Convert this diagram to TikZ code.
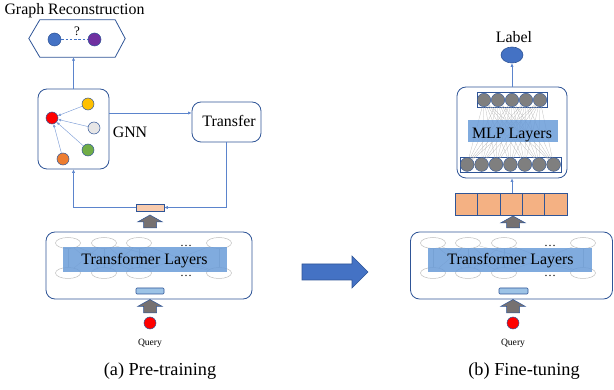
\documentclass[tikz,border=0pt]{standalone}
\usepackage{fontspec}
\setmainfont{Liberation Serif}
\usetikzlibrary{arrows.meta,shapes.geometric}
\definecolor{dblue}{HTML}{2F5597}
\definecolor{lblue}{HTML}{5B84CC}
\definecolor{bandblue}{HTML}{6A9CD8}
\definecolor{arrgray}{HTML}{767171}
\definecolor{orangeL}{HTML}{F8CBAD}
\definecolor{orangeD}{HTML}{F4B183}
\definecolor{smallblue}{HTML}{9DC3E6}
\definecolor{midblue}{HTML}{4472C4}
\definecolor{purp}{HTML}{7030A0}
\definecolor{ylw}{HTML}{FFC000}
\definecolor{lgry}{HTML}{E7E6E6}
\definecolor{grn}{HTML}{70AD47}
\definecolor{orng}{HTML}{ED7D31}
\definecolor{gcirc}{HTML}{7F7F7F}
\newcommand\myfs[1]{\fontsize{#1}{#1}\selectfont}
\newcommand\grayup[3]{\fill[arrgray,draw=dblue,line width=0.5pt]
  ({#1-6.5},#2) -- ({#1-6.5},{#3+7}) -- ({#1-12.5},{#3+7}) -- (#1,#3) -- ({#1+12.5},{#3+7}) -- ({#1+6.5},{#3+7}) -- ({#1+6.5},#2) -- cycle;}
\begin{document}
\begin{tikzpicture}[x=1pt,y=-1pt,
  box/.style={draw=dblue, line width=0.8pt, rounded corners=9pt, inner sep=0pt},
  conn/.style={draw=lblue, line width=0.6pt, -{Latex[length=3.5pt,width=3.2pt]}},
  sconn/.style={draw=lblue!80, line width=0.45pt, -{Latex[length=3pt,width=2.8pt]}},
  ell/.style={ellipse, draw=gray!50, fill=white, line width=0.5pt, minimum width=25pt, minimum height=11pt, inner sep=0pt},
  band/.style={fill=bandblue, fill opacity=0.85, text opacity=1, inner sep=0pt},
  dot/.style={circle, inner sep=0pt, minimum size=12pt, draw=dblue, line width=0.5pt},
  gdot/.style={circle, inner sep=0pt, fill=gcirc, draw=dblue, line width=0.4pt},
  mesh/.style={draw=gray!55, line width=0.25pt},
  faint/.style={draw=gray!50, line width=0.3pt},
  txt/.style={anchor=base, inner sep=0pt, font=\myfs{15.9}}
]
\useasboundingbox (0,0) rectangle (614,390);

% ---------------- Left panel ----------------
\node[txt] (grtitle) at (74.5,14.5) {Graph Reconstruction};
\node[minimum width=96pt, minimum height=37pt, inner sep=0pt] (hex) at (77,38.5) {};
\draw[dblue, line width=0.8pt] (hex.west) -- ([xshift=11pt]hex.north west) -- ([xshift=-10pt]hex.north east)
  -- (hex.east) -- ([xshift=-10pt]hex.south east) -- ([xshift=11pt]hex.south west) -- cycle;
\node[dot, fill=midblue, minimum size=13pt] (hb) at (54.5,39.5) {};
\node[dot, fill=purp, minimum size=13pt] (hp) at (94.5,39.5) {};
\draw[midblue, line width=0.6pt, dash pattern=on 2.5pt off 1.8pt] (hb) -- (hp);
\node[anchor=base, inner sep=0pt, font=\myfs{13}] (qm) at (77,36) {?};

% GNN box
\node[box, minimum width=71pt, minimum height=80pt] (gnn) at (73.5,129) {};
\node[dot, fill=red] (nr) at (52,118) {};
\node[dot, fill=ylw] (ny) at (88,104) {};
\node[dot, fill=lgry] (ng) at (94,128) {};
\node[dot, fill=grn] (ngr) at (88,150) {};
\node[dot, fill=orng] (no) at (63,159) {};
\foreach \n in {ny,ng,ngr,no} \draw[sconn] (\n) -- (nr);
\node[txt] (gnnlbl) at (130,138) {GNN};

% Transfer
\node[box, minimum width=69pt, minimum height=40pt] (transfer) at (226.5,122) {};
\node[txt] (transferlbl) at (229,126.7) {Transfer};

% Left transformer box
\node[box, minimum width=206pt, minimum height=67pt] (tl) at (149,265.5) {};
\foreach \x [count=\i] in {68,104,139,219} {
  \node[ell] (lt\i) at (\x,243) {};
  \node[ell] (lb\i) at (\x,273) {};
}
\foreach \i/\j in {1/2,2/1,2/3,3/2,3/4,4/3,1/3,2/4} \draw[faint] (lt\i) -- (lb\j);
\foreach \i in {1,...,4} \draw[faint] (lt\i) -- (lb\i);
\node[band, minimum width=164pt, minimum height=25pt] (lband) at (145,259.5) {};
\node[txt] (lbandlbl) at (144.5,265) {Transformer Layers};
\node[anchor=base, inner sep=0pt, font=\myfs{12}] (ld1) at (186,247) {\dots};
\node[anchor=base, inner sep=0pt, font=\myfs{12}] (ld2) at (186,277) {\dots};
\node[draw=dblue, fill=smallblue, line width=0.6pt, rounded corners=1pt, minimum width=28pt, minimum height=6pt, inner sep=0pt] (lsb) at (150,291) {};

% orange small rect
\node[draw=dblue, fill=orangeL, line width=0.6pt, minimum width=28pt, minimum height=7pt, inner sep=0pt] (orange) at (150,207.5) {};

% connectors left
\draw[conn] (gnn.north) -- (gnn.north |- hex.south);
\draw[conn] (gnn.east |- 0,113) -- (transfer.west |- 0,113);
\draw[conn] (transfer.south) |- (orange.east);
\draw[conn] (orange.west) -| (gnn.south);

% gray arrows left
\grayup{150}{228}{215}
\grayup{150}{313}{299.5}
\node[dot, fill=red] (lq) at (150,323) {};
\node[anchor=base, inner sep=0pt, font=\myfs{9.6}] (lql) at (150,346) {Query};

\node[anchor=base, inner sep=0pt, font=\myfs{18.3}] (capa) at (160,375.7) {(a) Pre-training};

% ---------------- big arrow ----------------
\fill[midblue, draw=dblue, line width=0.6pt] (302,264) -- (352,264) -- (352,256) -- (368,272) -- (352,288) -- (352,280) -- (302,280) -- cycle;

% ---------------- Right panel ----------------
\node[txt] (labeltxt) at (514,42.7) {Label};
\node[ellipse, draw=dblue, fill=midblue, line width=0.6pt, minimum width=22pt, minimum height=16pt, inner sep=0pt] (label) at (512,55) {};

\node[box, minimum width=110pt, minimum height=91pt] (mlp) at (512,132.5) {};
\node[draw=dblue, line width=0.7pt, minimum width=70pt, minimum height=15pt, inner sep=0pt] (toprow) at (512,100) {};
\node[draw=dblue, line width=0.7pt, minimum width=101pt, minimum height=15pt, inner sep=0pt] (botrow) at (510.5,164.5) {};
\foreach \i in {1,...,5} \node[gdot, minimum size=13.4pt] (t\i) at ({477+7+14*(\i-1)},100) {};
\foreach \j in {1,...,7} \node[gdot, minimum size=13.8pt] (b\j) at ({460+7.2+14.4*(\j-1)},164.5) {};
\foreach \i in {1,...,5} \foreach \j in {1,...,7} \draw[mesh] (t\i) -- (b\j);
\node[band, minimum width=90pt, minimum height=22pt] (mband) at (513,131) {};
\node[txt] (mlplbl) at (512,138.3) {MLP Layers};

% orange bar
\node[draw=dblue, fill=orangeD, line width=0.6pt, minimum width=112pt, minimum height=22pt, inner sep=0pt] (bar) at (511,204) {};
\foreach \x in {477.4,499.8,522.2,544.6} \draw[dblue, line width=0.6pt] (\x,193) -- (\x,215);

% right transformer box
\node[box, minimum width=202pt, minimum height=67pt] (tr) at (511.5,265.5) {};
\foreach \x [count=\i] in {433,468,504,583} {
  \node[ell] (rt\i) at (\x,243) {};
  \node[ell] (rb\i) at (\x,273) {};
}
\foreach \i/\j in {1/2,2/1,2/3,3/2,3/4,4/3,1/3,2/4} \draw[faint] (rt\i) -- (rb\j);
\foreach \i in {1,...,4} \draw[faint] (rt\i) -- (rb\i);
\node[band, minimum width=164pt, minimum height=24pt] (rband) at (510,260) {};
\node[txt] (rbandlbl) at (510.5,265) {Transformer Layers};
\node[anchor=base, inner sep=0pt, font=\myfs{12}] (rd1) at (550,247) {\dots};
\node[anchor=base, inner sep=0pt, font=\myfs{12}] (rd2) at (550,277) {\dots};
\node[draw=dblue, fill=smallblue, line width=0.6pt, rounded corners=1pt, minimum width=29pt, minimum height=6pt, inner sep=0pt] (rsb) at (513.5,291) {};

\draw[conn] (bar.north -| mlp.south) -- (mlp.south);
\draw[conn] (mlp.north) -- (label.south);

\grayup{513}{228}{216}
\grayup{513}{313}{299.5}
\node[dot, fill=red] (rq) at (513,323) {};
\node[anchor=base, inner sep=0pt, font=\myfs{9.6}] (rql) at (513,346) {Query};

\node[anchor=base, inner sep=0pt, font=\myfs{18.3}] (capb) at (524,375.7) {(b) Fine-tuning};
\end{tikzpicture}
\end{document}
